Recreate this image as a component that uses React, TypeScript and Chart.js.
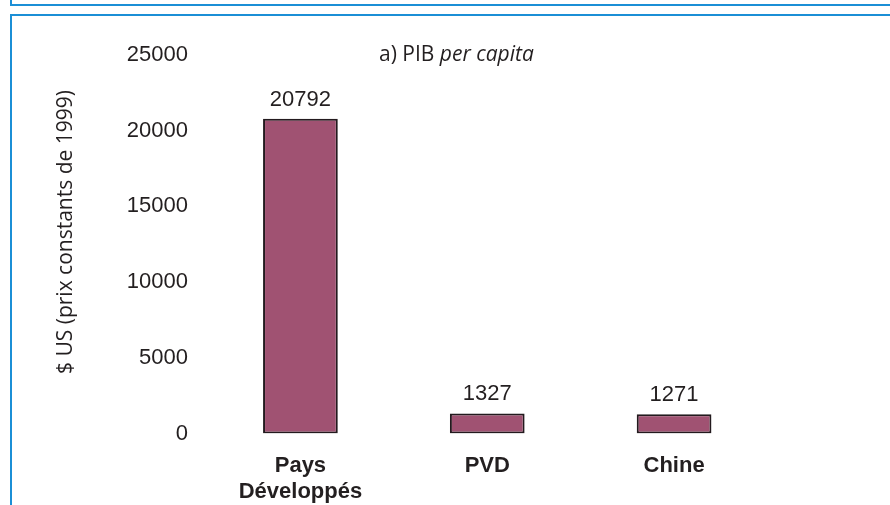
import React, { useEffect, useRef } from "react";
import { Chart, registerables } from "chart.js";

Chart.register(...registerables);

const categories: (string | string[])[] = [["Pays", "Développés"], "PVD", "Chine"];
const values: number[] = [20792, 1327, 1271];
const valueLabels: string[] = ["20792", "1327", "1271"];
const yTicks: number[] = [0, 5000, 10000, 15000, 20000, 25000];
const titleMain = "a) PIB ";
const titleItalic = "per capita";
const yTitle = "$ US (prix constants de 1999)";

const BAR_FILL = "#a05272";
const BAR_BORDER = "#231a1e";
const TEXT = "#231f20";
const BLUE = "#1b8fd6";

const overlayPlugin = {
  id: "overlay",
  afterDatasetsDraw(chart: any) {
    const ctx = chart.ctx;
    const meta = chart.getDatasetMeta(0);
    ctx.save();
    ctx.fillStyle = TEXT;
    ctx.font = "22px 'Liberation Sans', Arial, sans-serif";
    ctx.textAlign = "center";
    ctx.textBaseline = "alphabetic";
    meta.data.forEach((bar: any, i: number) => {
      ctx.fillText(valueLabels[i], bar.x, bar.y - 13);
    });
    // title
    const fMain = "21px 'Open Sans', 'Noto Sans', sans-serif";
    const fIt = "italic 21px 'Open Sans', 'Noto Sans', sans-serif";
    ctx.font = fMain;
    const w1 = ctx.measureText(titleMain).width;
    ctx.font = fIt;
    const w2 = ctx.measureText(titleItalic).width;
    const cx = chart.chartArea.left + (chart.chartArea.right - chart.chartArea.left) * 0.445;
    const x0 = cx - (w1 + w2) / 2;
    ctx.textAlign = "left";
    ctx.textBaseline = "middle";
    ctx.font = fMain;
    ctx.fillText(titleMain, x0, 55);
    ctx.font = fIt;
    ctx.fillText(titleItalic, x0 + w1, 55);
    // y title
    ctx.translate(66, 232);
    ctx.rotate(-Math.PI / 2);
    ctx.textAlign = "center";
    ctx.font = "21px 'Open Sans', 'Noto Sans', sans-serif";
    ctx.fillText(yTitle, 0, 0);
    ctx.restore();
  },
};

export default function App() {
  const ref = useRef<HTMLCanvasElement | null>(null);
  useEffect(() => {
    if (!ref.current) return;
    const chart = new Chart(ref.current, {
      type: "bar",
      data: {
        labels: categories as any,
        datasets: [
          {
            data: values,
            backgroundColor: BAR_FILL,
            borderColor: BAR_BORDER,
            borderWidth: 2,
            borderSkipped: false,
            barPercentage: 0.4,
            categoryPercentage: 1,
          },
        ],
      },
      options: {
        responsive: false,
        animation: false,
        layout: { padding: { left: 0, right: 122.5, top: 55, bottom: 0 } },
        plugins: {
          legend: { display: false },
          tooltip: { enabled: false },
          title: { display: false },
        },
        scales: {
          x: {
            grid: { display: false, drawTicks: false },
            border: { display: false },
            ticks: {
              color: TEXT,
              padding: 19,
              font: { family: "'Liberation Sans', Arial, sans-serif", size: 22, weight: "bold", lineHeight: 1.2 },
              maxRotation: 0,
              autoSkip: false,
            },
            afterFit(scale: any) {
              scale.height = 71.5;
            },
          },
          y: {
            min: 0,
            max: 25000,
            grid: { display: false, drawTicks: false },
            border: { display: false },
            afterBuildTicks(scale: any) {
              scale.ticks = yTicks.map((v) => ({ value: v }));
            },
            ticks: {
              color: TEXT,
              padding: 19,
              font: { family: "'Liberation Sans', Arial, sans-serif", size: 22 },
              callback: (v: any) => String(v),
            },
            afterFit(scale: any) {
              scale.width = 207;
            },
          },
        },
      },
      plugins: [overlayPlugin],
    });
    return () => chart.destroy();
  }, []);

  return (
    <div style={{ position: "fixed", left: 0, top: 0, width: 890, height: 505, background: "#fff", overflow: "hidden" }}>
      <div
        style={{
          position: "absolute",
          left: 10,
          top: 0,
          width: 880,
          height: 4,
          borderLeft: `2px solid ${BLUE}`,
          borderBottom: `2px solid ${BLUE}`,
        }}
      />
      <div
        style={{
          position: "absolute",
          left: 10,
          top: 14,
          width: 880,
          height: 500,
          borderLeft: `2px solid ${BLUE}`,
          borderTop: `2px solid ${BLUE}`,
        }}
      />
      <canvas ref={ref} width={890} height={505} style={{ position: "absolute", left: 0, top: 0, width: 890, height: 505 }} />
    </div>
  );
}
